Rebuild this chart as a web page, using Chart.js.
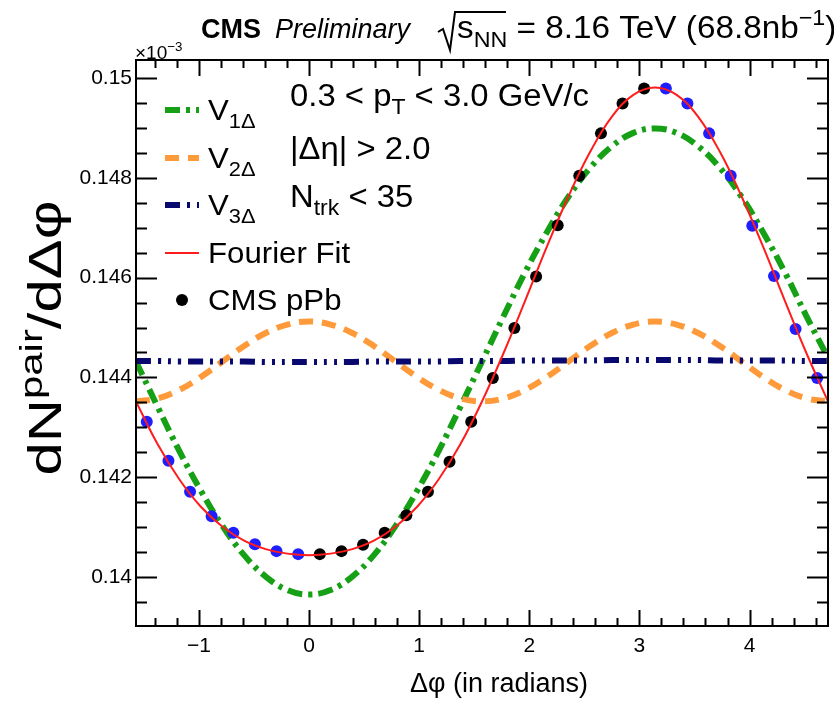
<!DOCTYPE html>
<html>
<head>
<meta charset="utf-8">
<script src="https://cdn.jsdelivr.net/npm/chart.js@4.4.1/dist/chart.umd.min.js"></script>
<style>
  html, body { margin: 0; padding: 0; background: #fff; }
  #wrap { width: 834px; height: 704px; }
</style>
</head>
<body>
<div id="wrap"><canvas id="c" width="834" height="704"></canvas></div>
<script>
// measured points: bin centres in Δφ (rad) and dN/dΔφ (x 1e-3)
const binPhi = [-1.473, -1.276, -1.080, -0.884, -0.687, -0.491, -0.295, -0.098,
  0.098, 0.295, 0.491, 0.687, 0.884, 1.080, 1.276, 1.473,
  1.669, 1.865, 2.062, 2.258, 2.454, 2.651, 2.847, 3.043,
  3.240, 3.436, 3.633, 3.829, 4.025, 4.222, 4.418, 4.614];
const pointVals = [0.14311, 0.14233, 0.14171, 0.14122, 0.14089, 0.14066, 0.14052, 0.14046,
  0.14046, 0.14052, 0.14065, 0.14089, 0.14124, 0.14171, 0.14231, 0.14311,
  0.14399, 0.14499, 0.14602, 0.14705, 0.14804, 0.14889, 0.14949, 0.14979,
  0.14979, 0.14949, 0.14889, 0.14804, 0.14704, 0.14603, 0.14497, 0.14399];

// curves read along the Δφ axis
const curvePhi = [-1.571, -1.374, -1.178, -0.982, -0.785, -0.589, -0.393, -0.196, 0,
  0.196, 0.393, 0.589, 0.785, 0.982, 1.178, 1.374, 1.571,
  1.767, 1.963, 2.160, 2.356, 2.553, 2.749, 2.945, 3.142,
  3.338, 3.534, 3.731, 3.927, 4.123, 4.320, 4.516, 4.712];
const fitVals = [0.14352, 0.14266, 0.14196, 0.14141, 0.14101, 0.14073, 0.14056, 0.14047, 0.14044,
  0.14047, 0.14056, 0.14073, 0.14101, 0.14141, 0.14196, 0.14266, 0.14352,
  0.14449, 0.14554, 0.14662, 0.14763, 0.14852, 0.14922, 0.14966, 0.14981,
  0.14966, 0.14922, 0.14852, 0.14763, 0.14662, 0.14554, 0.14449, 0.14352];
const v1Vals = [0.14432, 0.14341, 0.14253, 0.14173, 0.14102, 0.14044, 0.14001, 0.13974, 0.13965,
  0.13974, 0.14001, 0.14044, 0.14102, 0.14173, 0.14253, 0.14341, 0.14432,
  0.14523, 0.14611, 0.14691, 0.14762, 0.14820, 0.14863, 0.14890, 0.14899,
  0.14890, 0.14863, 0.14820, 0.14762, 0.14691, 0.14611, 0.14523, 0.14440];
const v2Vals = [0.14352, 0.14358, 0.14375, 0.14401, 0.14432, 0.14463, 0.14489, 0.14506, 0.14512,
  0.14506, 0.14489, 0.14463, 0.14432, 0.14401, 0.14375, 0.14358, 0.14352,
  0.14358, 0.14375, 0.14401, 0.14432, 0.14463, 0.14489, 0.14506, 0.14512,
  0.14506, 0.14489, 0.14463, 0.14432, 0.14401, 0.14375, 0.14358, 0.14352];
const v3Vals = [0.14433, 0.14433, 0.14432, 0.14432, 0.14432, 0.14432, 0.14431, 0.14431, 0.14431,
  0.14431, 0.14431, 0.14432, 0.14432, 0.14432, 0.14432, 0.14433, 0.14433,
  0.14433, 0.14434, 0.14434, 0.14434, 0.14434, 0.14435, 0.14435, 0.14435,
  0.14435, 0.14435, 0.14434, 0.14434, 0.14434, 0.14434, 0.14433, 0.14433];

const xTicks = [-1, 0, 1, 2, 3, 4];
const yTicks = [0.14, 0.142, 0.144, 0.146, 0.148, 0.15];
const X_MIN = -1.5708, X_MAX = 4.7124;
const Y_MIN = 0.13902, Y_MAX = 0.15036;

const FONT = '"Liberation Sans", Arial, Helvetica, sans-serif';
const GREEN = '#16a016', ORANGE = '#ff9a3a', NAVY = '#08086e', RED = '#ff1c1c', BLUE = '#1e1eff';
const DASH_V1 = [15, 6, 4, 6], DASH_V2 = [14, 9], DASH_V3 = [15, 7, 3, 7, 3, 7, 3, 7];

const toXY = (xs, ys) => xs.map((x, i) => ({ x, y: ys[i] }));
const isReflected = phi => phi < 0 || phi > Math.PI;

// text with sub/superscripts, optional horizontal stretch
function richText(ctx, x, y, parts, size, opt = {}) {
  const sx = opt.sx || 1, style = opt.style || '';
  let cx = x;
  parts.forEach(([t, k]) => {
    const fs = k === 'n' ? size : size * 0.7;
    const dy = k === 'sub' ? size * 0.27 : k === 'sup' ? -size * 0.42 : 0;
    ctx.font = `${style} ${fs}px ${FONT}`;
    if (!opt.measure) {
      ctx.save(); ctx.translate(cx, y + dy); ctx.scale(sx, 1); ctx.fillText(t, 0, 0); ctx.restore();
    }
    cx += ctx.measureText(t).width * sx;
  });
  return cx - x;
}

const rootFrame = {
  id: 'rootFrame',
  afterDatasetsDraw(chart) {
    const ctx = chart.ctx, a = chart.chartArea;
    const xs = chart.scales.x, ys = chart.scales.y;
    ctx.save();
    ctx.strokeStyle = '#000';
    ctx.lineWidth = 2;
    ctx.strokeRect(a.left, a.top, a.right - a.left, a.bottom - a.top);
    ctx.beginPath();
    // x ticks, bottom and top, pointing inward
    for (let k = -7; k <= 23; k++) {
      const v = k * 0.2;
      if (v < X_MIN || v > X_MAX) continue;
      const len = k % 5 === 0 ? 16 : 8;
      const px = Math.round(xs.getPixelForValue(v)) + 0.5;
      ctx.moveTo(px, a.bottom); ctx.lineTo(px, a.bottom - len);
      ctx.moveTo(px, a.top); ctx.lineTo(px, a.top + len);
    }
    // y ticks, left and right
    for (let k = 278; k <= 301; k++) {
      const v = k * 0.0005;
      if (v < Y_MIN || v > Y_MAX) continue;
      const len = k % 4 === 0 ? 21 : 11;
      const py = Math.round(ys.getPixelForValue(v)) + 0.5;
      ctx.moveTo(a.left, py); ctx.lineTo(a.left + len, py);
      ctx.moveTo(a.right, py); ctx.lineTo(a.right - len, py);
    }
    ctx.stroke();
    ctx.restore();
  },
  afterDraw(chart) {
    const ctx = chart.ctx;
    ctx.save();
    ctx.fillStyle = '#000';
    ctx.textBaseline = 'alphabetic';
    ctx.textAlign = 'left';

    // header
    richText(ctx, 201, 38, [['CMS', 'n']], 27, { style: 'bold' });
    richText(ctx, 275, 38, [['Preliminary', 'n']], 27, { style: 'italic' });
    ctx.lineWidth = 2;
    ctx.beginPath();
    ctx.moveTo(438, 32); ctx.lineTo(443, 29); ctx.lineTo(450, 50); ctx.lineTo(455, 12); ctx.lineTo(506, 12);
    ctx.stroke();
    richText(ctx, 457, 38, [['s', 'n'], ['NN', 'sub'], [' = 8.16 TeV (68.8nb', 'n'], ['\u22121', 'sup'], [')', 'n']], 32, { sx: 1.04 });

    // exponent of y axis
    richText(ctx, 135, 59, [['\u00d710', 'n'], ['\u22123', 'sup']], 19);

    // legend
    const rows = [120, 168, 215, 263, 310];
    const samples = [
      { color: GREEN, dash: DASH_V1, w: 6, parts: [['V', 'n'], ['1\u0394', 'sub']] },
      { color: ORANGE, dash: DASH_V2, w: 6, parts: [['V', 'n'], ['2\u0394', 'sub']] },
      { color: NAVY, dash: DASH_V3, w: 6, parts: [['V', 'n'], ['3\u0394', 'sub']] },
      { color: RED, dash: [], w: 2, parts: [['Fourier Fit', 'n']] },
      { dot: true, parts: [['CMS pPb', 'n']] }
    ];
    samples.forEach((s, i) => {
      const ly = rows[i] - 10;
      if (s.dot) {
        ctx.beginPath(); ctx.arc(182, ly, 6, 0, Math.PI * 2); ctx.fill();
      } else {
        ctx.save();
        ctx.strokeStyle = s.color; ctx.lineWidth = s.w; ctx.setLineDash(s.dash);
        ctx.beginPath(); ctx.moveTo(165, ly); ctx.lineTo(199, ly); ctx.stroke();
        ctx.restore();
      }
      richText(ctx, 208, rows[i], s.parts, 30, { sx: 1.04 });
    });

    // selection text
    richText(ctx, 290, 106, [['0.3 < p', 'n'], ['T', 'sub'], [' < 3.0 GeV/c', 'n']], 31, { sx: 1.06 });
    richText(ctx, 290, 159, [['|\u0394\u03b7| > 2.0', 'n']], 31, { sx: 1.06 });
    richText(ctx, 290, 207, [['N', 'n'], ['trk', 'sub'], [' < 35', 'n']], 31, { sx: 1.06 });

    // axis titles
    richText(ctx, 410, 692, [['\u0394\u03c6 (in radians)', 'n']], 27);
    const yParts = [['dN', 'n'], ['pair', 'sup'], ['/d\u0394\u03c6', 'n']];
    const yOpt = { sx: 1.3 };
    const tw = richText(ctx, 0, 0, yParts, 46, { sx: 1.3, measure: true });
    ctx.translate(61, 338);
    ctx.rotate(-Math.PI / 2);
    richText(ctx, -tw / 2, 0, yParts, 46, yOpt);
    ctx.restore();
  }
};

new Chart(document.getElementById('c'), {
  type: 'scatter',
  data: {
    datasets: [
      { label: 'Fourier Fit', data: toXY(curvePhi, fitVals), showLine: true, borderColor: RED, borderWidth: 2,
        pointRadius: 0, tension: 0.4, order: 0, clip: 0 },
      { label: 'CMS pPb', data: toXY(binPhi, pointVals).filter(p => !isReflected(p.x)), pointRadius: 6,
        pointBackgroundColor: '#000', pointBorderWidth: 0, order: 1 },
      { label: 'reflected', data: toXY(binPhi, pointVals).filter(p => isReflected(p.x)), pointRadius: 6,
        pointBackgroundColor: BLUE, pointBorderWidth: 0, order: 1 },
      { label: 'V3', data: toXY(curvePhi, v3Vals), showLine: true, borderColor: NAVY, borderWidth: 6,
        borderDash: DASH_V3, pointRadius: 0, tension: 0.4, order: 2, clip: 0 },
      { label: 'V2', data: toXY(curvePhi, v2Vals), showLine: true, borderColor: ORANGE, borderWidth: 6,
        borderDash: DASH_V2, pointRadius: 0, tension: 0.4, order: 3, clip: 0 },
      { label: 'V1', data: toXY(curvePhi, v1Vals), showLine: true, borderColor: GREEN, borderWidth: 6,
        borderDash: DASH_V1, pointRadius: 0, tension: 0.4, order: 4, clip: 0 }
    ]
  },
  options: {
    responsive: false,
    animation: false,
    devicePixelRatio: 1,
    layout: { padding: { top: 60, right: 5, left: 0, bottom: 0 } },
    plugins: { legend: { display: false }, tooltip: { enabled: false } },
    scales: {
      x: {
        type: 'linear', min: X_MIN, max: X_MAX,
        grid: { display: false, drawTicks: false }, border: { display: false },
        afterBuildTicks: s => { s.ticks = xTicks.map(v => ({ value: v })); },
        afterFit: s => { s.height = 78; },
        ticks: { autoSkip: false, maxRotation: 0, padding: 8, color: '#000', font: { family: FONT, size: 21 },
          callback: v => (v < 0 ? '\u2212' + Math.abs(v) : String(v)) }
      },
      y: {
        type: 'linear', min: Y_MIN, max: Y_MAX,
        grid: { display: false, drawTicks: false }, border: { display: false },
        afterBuildTicks: s => { s.ticks = yTicks.map(v => ({ value: v })); },
        afterFit: s => { s.width = 136; },
        ticks: { autoSkip: false, padding: 4, color: '#000', font: { family: FONT, size: 21 },
          callback: v => String(+v.toFixed(3)) }
      }
    }
  },
  plugins: [rootFrame]
});
</script>
</body>
</html>
